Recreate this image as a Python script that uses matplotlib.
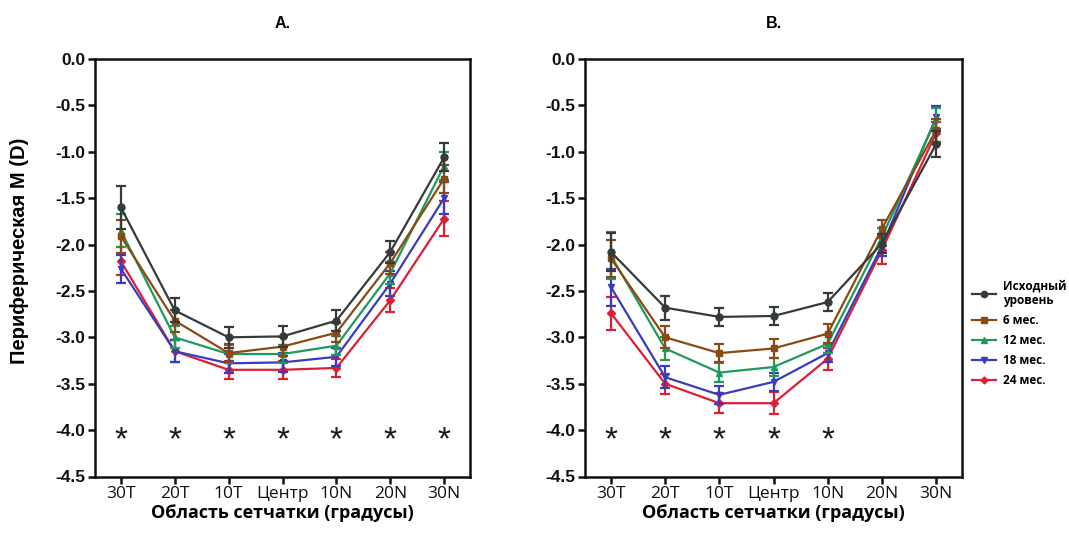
import matplotlib
matplotlib.use("Agg")
import matplotlib.pyplot as plt
from matplotlib.lines import Line2D

plt.rcParams['axes.unicode_minus'] = False

categories = ["30T", "20T", "10T", "Центр", "10N", "20N", "30N"]
series_labels = ["Исходный\nуровень", "6 мес.", "12 мес.", "18 мес.", "24 мес."]

# Panel A means
a_base = [-1.60, -2.71, -3.00, -2.99, -2.82, -2.08, -1.06]
a_6m   = [-1.91, -2.82, -3.17, -3.10, -2.95, -2.20, -1.29]
a_12m  = [-1.85, -3.00, -3.18, -3.18, -3.09, -2.31, -1.15]
a_18m  = [-2.26, -3.15, -3.28, -3.27, -3.21, -2.42, -1.50]
a_24m  = [-2.18, -3.15, -3.35, -3.35, -3.33, -2.60, -1.72]
# Panel A errors
a_base_se = [0.23, 0.13, 0.11, 0.11, 0.11, 0.12, 0.15]
a_6m_se   = [0.18, 0.12, 0.10, 0.10, 0.10, 0.12, 0.15]
a_12m_se  = [0.18, 0.12, 0.10, 0.10, 0.10, 0.12, 0.15]
a_18m_se  = [0.15, 0.12, 0.10, 0.10, 0.10, 0.13, 0.17]
a_24m_se  = [0.15, 0.12, 0.10, 0.10, 0.10, 0.13, 0.19]

# Panel B means
b_base = [-2.08, -2.68, -2.78, -2.77, -2.62, -1.99, -0.92]
b_6m   = [-2.15, -3.00, -3.17, -3.12, -2.96, -1.83, -0.77]
b_12m  = [-2.12, -3.12, -3.38, -3.32, -3.07, -1.92, -0.65]
b_18m  = [-2.46, -3.43, -3.62, -3.48, -3.17, -2.02, -0.63]
b_24m  = [-2.74, -3.50, -3.71, -3.71, -3.23, -2.06, -0.80]
# Panel B errors
b_base_se = [0.20, 0.13, 0.10, 0.10, 0.10, 0.10, 0.14]
b_6m_se   = [0.20, 0.12, 0.10, 0.10, 0.10, 0.10, 0.12]
b_12m_se  = [0.25, 0.12, 0.10, 0.10, 0.10, 0.10, 0.12]
b_18m_se  = [0.20, 0.12, 0.10, 0.10, 0.10, 0.10, 0.12]
b_24m_se  = [0.18, 0.11, 0.11, 0.12, 0.12, 0.15, 0.12]

stars_a = [0, 1, 2, 3, 4, 5, 6]
stars_b = [0, 1, 2, 3, 4]
star_level = -4.0

colors = ["#353a3a", "#8a4a14", "#1f9a5c", "#3b3bbd", "#d92035"]
markers = ["o", "s", "^", "v", "D"]
msizes = [5, 5, 5, 5, 4]

fig = plt.figure(figsize=(10.69, 5.39), dpi=100)
axA = fig.add_axes([95/1069, 1-476.5/539, 375/1069, (476.5-59)/539])
axB = fig.add_axes([585/1069, 1-476.5/539, 377/1069, (476.5-59)/539])

panels = [
    (axA, "A.", [a_base, a_6m, a_12m, a_18m, a_24m],
     [a_base_se, a_6m_se, a_12m_se, a_18m_se, a_24m_se], stars_a),
    (axB, "B.", [b_base, b_6m, b_12m, b_18m, b_24m],
     [b_base_se, b_6m_se, b_12m_se, b_18m_se, b_24m_se], stars_b),
]

x = list(range(len(categories)))
for ax, title, means, ses, stars in panels:
    for i in reversed(range(len(means))):
        ax.errorbar(x, means[i], yerr=ses[i], color=colors[i], marker=markers[i],
                    markersize=msizes[i], linewidth=1.6, elinewidth=1.6,
                    capsize=3.6, capthick=1.6, zorder=3 + (5 - i))
    for s in stars:
        ax.annotate("*", (s, star_level), xytext=(0, -8), textcoords="offset points",
                    ha="center", va="center", fontsize=24,
                    color="#1a1a1a", family="Liberation Sans")
    ax.set_xlim(-0.48, 6.48)
    ax.set_ylim(-4.5, 0.0)
    ax.set_yticks([0.0, -0.5, -1.0, -1.5, -2.0, -2.5, -3.0, -3.5, -4.0, -4.5])
    ax.set_yticklabels([f"{v:.1f}" for v in ax.get_yticks()],
                       fontsize=12.5, fontweight="bold", family="Liberation Sans")
    ax.set_xticks(x)
    ax.set_xticklabels(categories, fontsize=12.5, family="Open Sans")
    ax.tick_params(axis="both", direction="out", length=5, width=1.8, colors="#111111", pad=2)
    for sp in ax.spines.values():
        sp.set_linewidth(1.8)
        sp.set_color("#111111")
    ax.set_xlabel("Область сетчатки (градусы)", fontsize=13, fontweight="bold",
                  family="Open Sans", labelpad=1)
    ax.set_title(title, fontsize=11.5, fontweight="bold", family="Liberation Sans", pad=22)

axA.set_ylabel("Периферическая M (D)", fontsize=14.5, fontweight="bold",
               family="Liberation Sans")
axA.yaxis.set_label_coords(-0.175, 0.54)

handles = [Line2D([0], [0], color=colors[i], marker=markers[i], markersize=msizes[i] - 0.5,
                  linewidth=1.6) for i in range(len(series_labels))]
fig.legend(handles, series_labels, loc="upper left", bbox_to_anchor=(972/1069, 1 - 279/539),
           frameon=False, handlelength=2.0, handletextpad=0.6,
           labelspacing=0.6, borderaxespad=0, borderpad=0,
           prop={"family": "Open Sans", "weight": "bold", "size": 8.5})

fig.savefig("out.png", dpi=100, facecolor="white")
